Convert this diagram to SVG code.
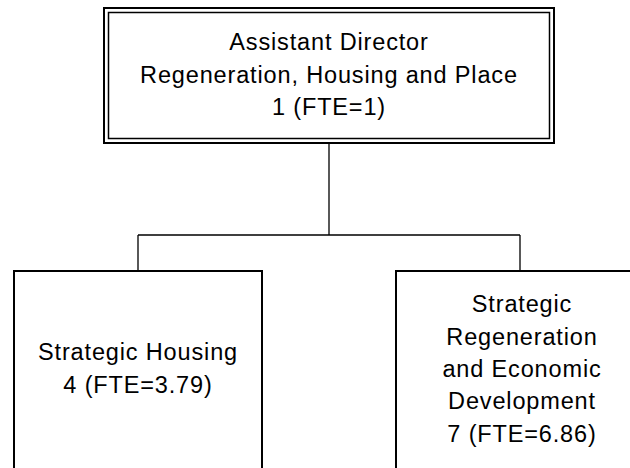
<svg xmlns="http://www.w3.org/2000/svg" width="630" height="468" viewBox="0 0 630 468">
<style>
text{font-family:"Liberation Sans",Arial,sans-serif;font-size:23.5px;letter-spacing:0.85px;fill:#000;text-anchor:middle}
.box{fill:#fff;stroke:#000;stroke-width:2}
.conn{fill:none;stroke:#000;stroke-width:1.3}
</style>
<rect width="630" height="468" fill="#fff"/>
<g id="connectors">
<path class="conn" d="M329,143 V235 M138,235 H520 M138,235 V270 M520,235 V270"/>
</g>
<g id="node-assistant-director">
<rect class="box" x="104" y="8" width="450" height="135"/>
<rect x="108.5" y="12.5" width="441" height="126" fill="none" stroke="#000" stroke-width="1.5"/>
<text x="329" y="50">Assistant Director</text>
<text x="329" y="83">Regeneration, Housing and Place</text>
<text x="329" y="115">1 (FTE=1)</text>
</g>
<g id="node-strategic-housing">
<rect class="box" x="14" y="271" width="248" height="210"/>
<text x="138" y="360">Strategic Housing</text>
<text x="138" y="393">4 (FTE=3.79)</text>
</g>
<g id="node-strategic-regeneration">
<rect class="box" x="396" y="271" width="250" height="210"/>
<text x="522" y="312">Strategic</text>
<text x="522" y="345">Regeneration</text>
<text x="522" y="377">and Economic</text>
<text x="522" y="409">Development</text>
<text x="522" y="442">7 (FTE=6.86)</text>
</g>
</svg>
